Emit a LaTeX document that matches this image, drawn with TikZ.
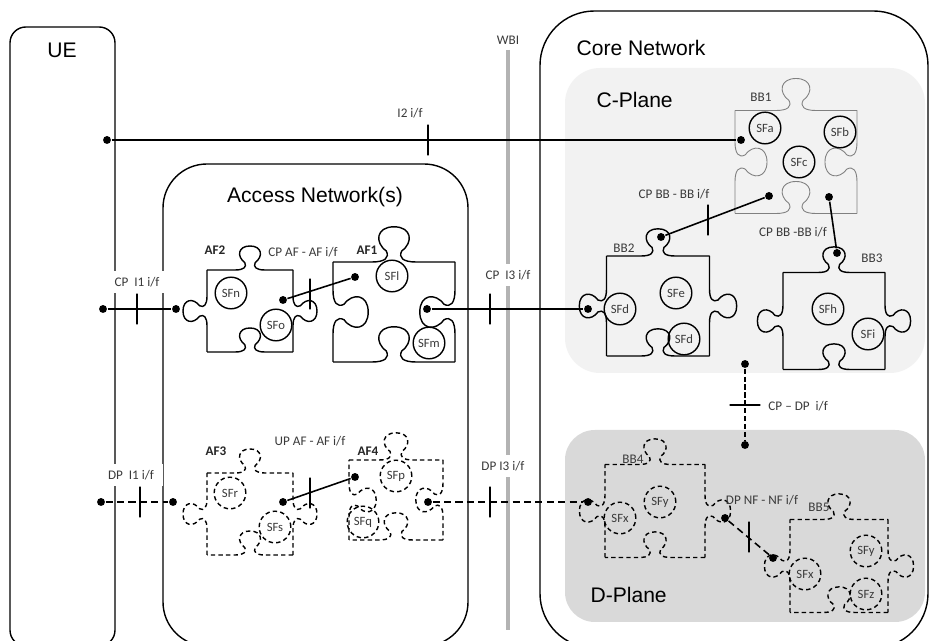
\documentclass[tikz,border=0pt]{standalone}
\usepackage{fontspec}
\setmainfont{Carlito}
\newfontfamily\arialfont{Liberation Sans}
\newcommand{\lblfont}{\fontsize{7.5}{9}\selectfont}
\newcommand{\ttlfont}{\arialfont\fontsize{12}{14}\selectfont}
\definecolor{cplane}{HTML}{F2F2F2}
\definecolor{dplane}{HTML}{D9D9D9}
\definecolor{wbi}{HTML}{B3B3B3}
\definecolor{lbltext}{HTML}{3A3A3A}

\tikzset{
    % one side of a puzzle piece: length / knob size / knob (1 out, -1 in, 0 flat)
    pics/pzedge/.style args = {#1/#2/#3}{code = {
        \pgfmathsetmacro{\pzc}{#1/2}
        \pgfmathsetmacro{\pzs}{#2}
        \pgfmathsetmacro{\pzk}{-(#2)*(#3)}
        \draw (0,0) -- ({\pzc-0.2*\pzs},0)
            .. controls ({\pzc-0.08*\pzs},0) and ({\pzc-0.04*\pzs},{0.04*\pzk}) .. ({\pzc-0.07*\pzs},{0.1*\pzk})
            .. controls ({\pzc-0.18*\pzs},{0.18*\pzk}) and ({\pzc-0.16*\pzs},{0.32*\pzk}) .. ({\pzc},{0.32*\pzk})
            .. controls ({\pzc+0.16*\pzs},{0.32*\pzk}) and ({\pzc+0.18*\pzs},{0.18*\pzk}) .. ({\pzc+0.07*\pzs},{0.1*\pzk})
            .. controls ({\pzc+0.04*\pzs},{0.04*\pzk}) and ({\pzc+0.08*\pzs},0) .. ({\pzc+0.2*\pzs},0)
            -- (#1,0);
    }},
    % whole piece: width / height / knob size / top / right / bottom / left
    pics/piece/.style args = {#1/#2/#3/#4/#5/#6/#7}{code = {
        \pic at ({-#1/2},{-#2/2}) {pzedge=#1/#3/#4};
        \pic[rotate=-90] at ({#1/2},{-#2/2}) {pzedge=#2/#3/#5};
        \pic[rotate=180] at ({#1/2},{#2/2}) {pzedge=#1/#3/#6};
        \pic[rotate=90] at ({-#1/2},{#2/2}) {pzedge=#2/#3/#7};
    }}
}

\begin{document}
\begin{tikzpicture}[
        x = 0.02cm, y = -0.02cm, % one unit = one pixel of the sketch
        line width = 0.8pt, % default line
        line join = round
    ]

    \tikzstyle{dot} = [circle, fill = black, inner sep = 0pt, minimum size = 4.5pt]
    \tikzstyle{sf} = [circle, draw, inner sep = 0pt, minimum size = 18pt,
        font = \fontsize{7.2}{8}\selectfont, text = lbltext]
    \tikzstyle{lbl} = [font = \lblfont, text = lbltext, inner sep = 1pt]
    \tikzstyle{boxlbl} = [lbl, fill = white, inner xsep = 5pt, inner ysep = 3.5pt]
    \tikzstyle{pname} = [font = \lblfont\bfseries, text = black!85]
    \tikzstyle{title} = [font = \ttlfont]
    \tikzstyle{vtick} = [draw, inner sep = 0pt, minimum width = 0pt, minimum height = 17pt]
    \tikzstyle{htick} = [draw, inner sep = 0pt, minimum height = 0pt, minimum width = 17pt]
    \tikzstyle{conn} = [line width = 0.9pt]
    \tikzstyle{dpconn} = [conn, dash pattern = on 4pt off 2.5pt]
    \tikzstyle{dp} = [dash pattern = on 2.5pt off 1.8pt]

    \useasboundingbox (0,0) rectangle (931,641);
    \clip (0,0) rectangle (931,641);
    \fill[white] (0,0) rectangle (931,641);

    % frames
    \draw[rounded corners = 9pt] (10,27) rectangle (115,646);
    \draw[rounded corners = 25pt] (163,164) rectangle (468,646);
    \draw[rounded corners = 31pt] (540,11) rectangle (928,648);
    \fill[cplane, rounded corners = 20pt] (565,68) rectangle (925,373);
    \fill[dplane, rounded corners = 17pt] (565,430) rectangle (925,622);
    \draw[wbi, line width = 2.8pt] (508,50) -- (508,630);

    \node[title] (ue) at (62,50) {UE};
    \node[title] (an) at (315,197) {Access Network(s)};
    \node[title, anchor = west] (cn) at (570,48) {Core Network};
    \node[title, anchor = west] (cpl) at (590,100) {C-Plane};
    \node[title, anchor = west] (dpl) at (584,595) {D-Plane};
    \node[lbl] (wbil) at (508,40) {WBI};

    % puzzle pieces
    \pic at (250,311) {piece=86/82/75/1/1/-1/1}; % AF2
    \pic at (394,312) {piece=122/100/110/1/-1/-1/-1}; % AF1
    \pic[dp] at (250,514) {piece=86/82/75/1/1/-1/1}; % AF3
    \pic[dp] at (396,500) {piece=94/80/85/1/-1/-1/-1}; % AF4
    \pic[gray, line width = 0.5pt] at (796,162) {piece=122/103/100/1/-1/-1/-1}; % BB1
    \pic at (658,306) {piece=103/100/85/1/1/-1/1}; % BB2
    \pic at (834,321) {piece=102/97/80/1/1/-1/1}; % BB3
    \pic[dp] at (655,511) {piece=100/93/80/1/1/-1/1}; % BB4
    \pic[dp] at (839,566) {piece=98/93/80/1/1/-1/1}; % BB5

    \node[pname] (af2) at (215,250) {AF2};
    \node[pname] (af1) at (367,250) {AF1};
    \node[pname] (af3) at (216,451) {AF3};
    \node[pname] (af4) at (368,451) {AF4};
    \node[lbl] (bb1) at (761,97) {BB1};
    \node[lbl] (bb2) at (624,248) {BB2};
    \node[lbl] (bb3) at (872,258) {BB3};
    \node[lbl] (bb4) at (633,459) {BB4};
    \node[lbl] (bb5) at (819,507) {BB5};

    % service functions
    \node[sf] (sfn) at (231,293) {SFn};
    \node[sf] (sfo) at (276,325) {SFo};
    \node[sf] (sfl) at (392,276) {SFl};
    \node[sf] (sfm) at (429,343) {SFm};
    \node[sf] (sfa) at (765,128) {SFa};
    \node[sf] (sfb) at (840,132) {SFb};
    \node[sf] (sfc) at (799,162) {SFc};
    \node[sf] (sfd) at (620,309) {SFd};
    \node[sf] (sfe) at (676,293) {SFe};
    \node[sf] (sfd2) at (684,339) {SFd};
    \node[sf] (sfh) at (828,309) {SFh};
    \node[sf] (sfi) at (868,334) {SFi};
    \node[sf, dp] (sfr) at (230,493) {SFr};
    \node[sf, dp] (sfs) at (275,527) {SFs};
    \node[sf, dp] (sfp) at (396,476) {SFp};
    \node[sf, dp] (sfq) at (363,522) {SFq};
    \node[sf, dp] (sfx) at (620,518) {SFx};
    \node[sf, dp] (sfy) at (660,502) {SFy};
    \node[sf, dp] (sfx2) at (805,574) {SFx};
    \node[sf, dp] (sfy2) at (866,551) {SFy};
    \node[sf, dp] (sfz) at (866,594) {SFz};

    % interface end points
    \node[dot] (i2a) at (107,140) {};
    \node[dot] (i2b) at (741,140) {};
    \node[dot] (cp1a) at (103,309) {};
    \node[dot] (cp1b) at (176,309) {};
    \node[dot] (afa) at (283,300) {};
    \node[dot] (afb) at (355,277) {};
    \node[dot] (cp3a) at (427,309) {};
    \node[dot] (cp3b) at (588,309) {};
    \node[dot] (bba) at (661,237) {};
    \node[dot] (bbb) at (769,196) {};
    \node[dot] (bbc) at (829,197) {};
    \node[dot] (bbd) at (837,253) {};
    \node[dot] (dp1a) at (101,502) {};
    \node[dot] (dp1b) at (173,502) {};
    \node[dot] (upa) at (283,502) {};
    \node[dot] (upb) at (355,477) {};
    \node[dot] (dp3a) at (428,502) {};
    \node[dot] (dp3b) at (588,502) {};
    \node[dot] (cdpa) at (745,364) {};
    \node[dot] (cdpb) at (745,445) {};
    \node[dot] (nfa) at (725,518) {};
    \node[dot] (nfb) at (773,558) {};

    \draw[conn] (i2a) -- (i2b);
    \draw[conn] (cp1a) -- (cp1b);
    \draw[conn] (afa) -- (afb);
    \draw[conn] (cp3a) -- (cp3b);
    \draw[conn] (bba) -- (bbb);
    \draw[conn] (bbc) -- (bbd);
    \draw[dpconn] (dp1a) -- (dp1b);
    \draw[conn] (upa) -- (upb);
    \draw[dpconn] (dp3a) -- (dp3b);
    \draw[line width = 1.5pt, dash pattern = on 3pt off 1.5pt] (cdpa) -- (cdpb);
    \draw[dpconn] (nfa) -- (nfb);

    % interface ticks
    \node[vtick] (t1) at (428,140) {};
    \node[vtick] (t2) at (137,309) {};
    \node[vtick] (t3) at (310,294) {};
    \node[vtick] (t4) at (490,309) {};
    \node[vtick] (t5) at (708,220) {};
    \node[vtick] (t6) at (140,502) {};
    \node[vtick] (t7) at (310,493) {};
    \node[vtick] (t8) at (490,502) {};
    \node[htick] (t9) at (745,405) {};
    \node[vtick] (t10) at (749,537) {};

    % interface names
    \node[lbl] (l1) at (410,113) {I2 i/f};
    \node[boxlbl] (l2) at (137,282) {CP\ \ I1 i/f};
    \node[lbl] (l3) at (303,252) {CP AF - AF i/f};
    \node[boxlbl] (l4) at (508,275) {CP\ \ I3 i/f};
    \node[lbl] (l5) at (674,194) {CP BB - BB i/f};
    \node[lbl] (l6) at (793,232) {CP BB -BB i/f};
    \node[boxlbl] (l7) at (131,475) {DP\ \ I1 i/f};
    \node[lbl] (l8) at (310,441) {UP AF - AF i/f};
    \node[boxlbl] (l9) at (503,466) {DP I3 i/f};
    \node[lbl, anchor = west] (l10) at (766,406) {CP -- DP\ \ i/f};
    \node[lbl] (l11) at (762,500) {DP NF - NF i/f};

\end{tikzpicture}
\end{document}
